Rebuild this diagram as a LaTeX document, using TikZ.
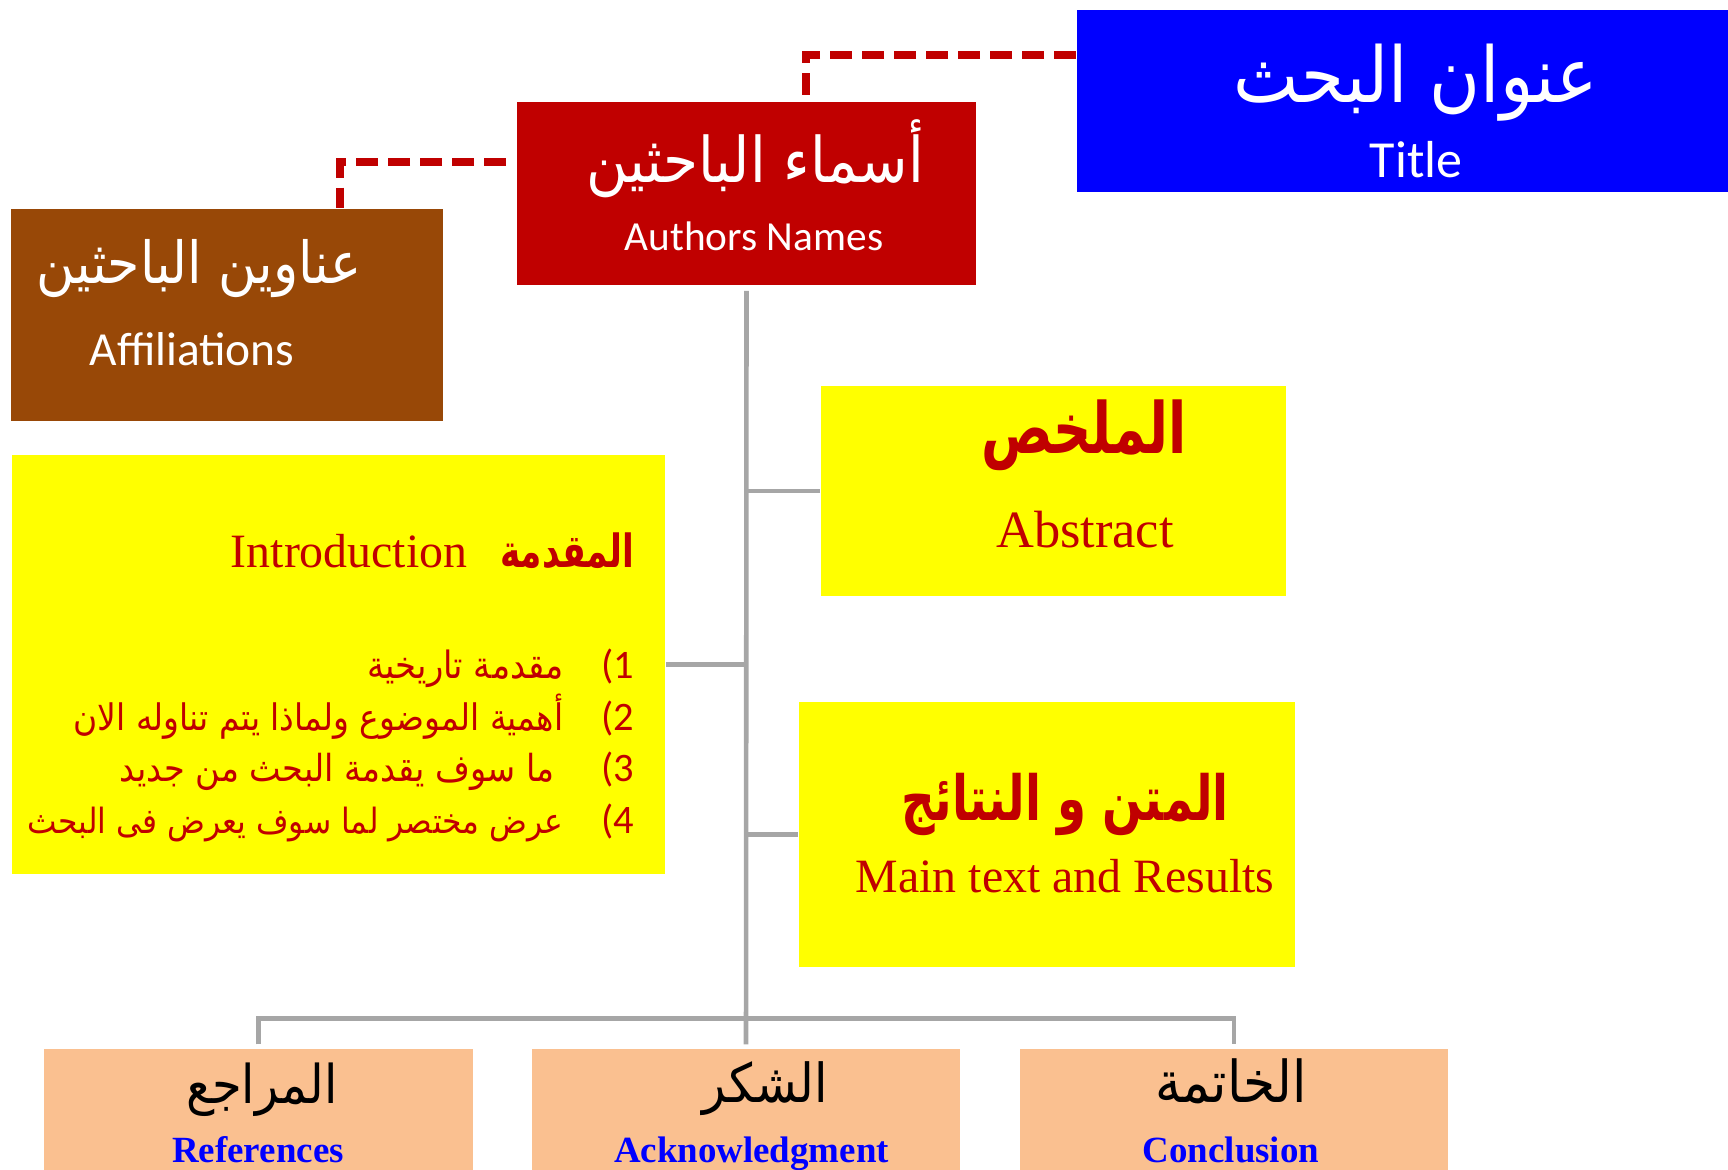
\documentclass[tikz,border=0pt]{standalone}
\usepackage{fontspec}
\setmainfont{Liberation Serif}
\newfontfamily\calfont{Carlito}
\newfontfamily\arabicfont[Script=Arabic, FakeStretch=0.9]{DejaVu Sans}
\newfontfamily\arabiccond[Script=Arabic, FakeStretch=0.75]{DejaVu Sans}
\TeXXeTstate=1
\usetikzlibrary{calc}
\definecolor{titleblue}{RGB}{0,0,255}
\definecolor{darkred}{RGB}{192,0,0}
\definecolor{affilbrown}{RGB}{152,72,7}
\definecolor{boxyellow}{RGB}{255,255,0}
\definecolor{peach}{RGB}{250,192,144}
\definecolor{linegray}{RGB}{166,166,166}
\newcommand{\artxt}[1]{{\arabicfont\beginR #1\endR}}
\newcommand{\arcond}[1]{{\arabiccond\bfseries\beginR #1\endR}}

\begin{document}
\begin{tikzpicture}[x=0.01cm, y=-0.01cm,
        box/.style={rectangle, inner sep=0pt},
        txt/.style={inner sep=0pt, anchor=base},
        dashlink/.style={draw=darkred, line width=2.2pt, dash pattern=on 6.3pt off 2.8pt},
        branch/.style={draw=linegray, line width=1.3pt}]
        \useasboundingbox (0,0) rectangle (1728,1169);

        \node [box, fill=titleblue, minimum width=6.78cm, minimum height=1.82cm] (title) at (1416,101) {};
        \node [box, fill=darkred, minimum width=4.59cm, minimum height=1.83cm] (authors) at (746.5,193.5) {};
        \node [box, fill=affilbrown, minimum width=4.32cm, minimum height=2.12cm] (affil) at (227,315) {};
        \node [box, fill=boxyellow, minimum width=6.53cm, minimum height=4.19cm] (intro) at (338.5,664.5) {};
        \node [box, fill=boxyellow, minimum width=4.65cm, minimum height=2.10cm] (abstract) at (1053.5,491) {};
        \node [box, fill=boxyellow, minimum width=4.96cm, minimum height=2.65cm] (main) at (1047,834.5) {};
        \node [box, fill=peach, minimum width=4.29cm, minimum height=1.51cm] (refs) at (258.5,1124.5) {};
        \node [box, fill=peach, minimum width=4.28cm, minimum height=1.51cm] (ack) at (746,1124.5) {};
        \node [box, fill=peach, minimum width=4.28cm, minimum height=1.51cm] (concl) at (1234,1124.5) {};

        \node [txt, text=white, font=\fontsize{21.9}{25}\selectfont] (titlear) at (1416,102) {\artxt{عنوان البحث}};
        \node [txt, text=white, font=\calfont\fontsize{14.8}{17}\selectfont] (titleen) at (1416,177) {Title};
        \node [txt, text=white, font=\fontsize{17.9}{21}\selectfont] (authorsar) at (755,182) {\artxt{أسماء الباحثين}};
        \node [txt, text=white, font=\calfont\fontsize{11.75}{14}\selectfont] (authorsen) at (754,250) {Authors Names};
        \node [txt, text=white, font=\fontsize{16.5}{19}\selectfont] (affilar) at (199,283) {\artxt{عناوين الباحثين}};
        \node [txt, text=white, font=\calfont\fontsize{13.5}{16}\selectfont] (affilen) at (192,365) {Affiliations};

        \node [txt, anchor=base east, text=darkred, font=\fontsize{13}{15}\selectfont] (introar) at (635,567) {\arcond{المقدمة}};
        \node [txt, anchor=base east, text=darkred, font=\fontsize{13.6}{16}\selectfont] (introen) at (468,567) {Introduction};
        \node [txt, anchor=base east, text=darkred, font=\calfont\fontsize{11.5}{14}\selectfont] (n1) at (635,678) {(1};
        \node [txt, anchor=base east, text=darkred, font=\calfont\fontsize{11.5}{14}\selectfont] (n2) at (635,730) {(2};
        \node [txt, anchor=base east, text=darkred, font=\calfont\fontsize{11.5}{14}\selectfont] (n3) at (635,781) {(3};
        \node [txt, anchor=base east, text=darkred, font=\calfont\fontsize{11.5}{14}\selectfont] (n4) at (635,833) {(4};
        \node [txt, anchor=base east, text=darkred, font=\fontsize{10.7}{13}\selectfont] (item1) at (564,678) {\artxt{مقدمة تاريخية}};
        \node [txt, anchor=base east, text=darkred, font=\fontsize{10.4}{13}\selectfont] (item2) at (564,730) {\artxt{أهمية الموضوع ولماذا يتم تناوله الان}};
        \node [txt, anchor=base east, text=darkred, font=\fontsize{10.6}{13}\selectfont] (item3) at (555,781) {\artxt{ما سوف يقدمة البحث من جديد}};
        \node [txt, anchor=base east, text=darkred, font=\fontsize{9.9}{12}\selectfont] (item4) at (564,833) {\artxt{عرض مختصر لما سوف يعرض فى البحث}};

        \node [txt, text=darkred, font=\fontsize{20.1}{23}\selectfont] (abstractar) at (1084,453) {\arcond{الملخص}};
        \node [txt, text=darkred, font=\fontsize{14.9}{18}\selectfont] (abstracten) at (1085,547) {Abstract};
        \node [txt, text=darkred, font=\fontsize{17.7}{21}\selectfont] (mainar) at (1065,820) {\arcond{المتن و النتائج}};
        \node [txt, text=darkred, font=\fontsize{13.6}{16}\selectfont] (mainen) at (1065,892) {Main text and Results};

        \node [txt, font=\fontsize{15.2}{18}\selectfont] (refsar) at (262,1103) {\artxt{المراجع}};
        \node [txt, text=titleblue, font=\bfseries\fontsize{10.5}{13}\selectfont] (refsen) at (258,1162) {References};
        \node [txt, font=\fontsize{15.3}{18}\selectfont] (ackar) at (765,1102) {\artxt{الشكر}};
        \node [txt, text=titleblue, font=\bfseries\fontsize{10.5}{13}\selectfont] (acken) at (751.5,1162) {Acknowledgment};
        \node [txt, font=\fontsize{16.4}{19}\selectfont] (conclar) at (1231,1102) {\artxt{الخاتمة}};
        \node [txt, text=titleblue, font=\bfseries\fontsize{10.5}{13}\selectfont] (conclen) at (1231,1162) {Conclusion};

        \draw [dashlink] ($(title.north west)!0.25!(title.south west)$) -| ([xshift=0.595cm]authors.north);
        \draw [dashlink] ($(authors.north west)!0.33!(authors.south west)+(-10,0)$) -| ($(affil.north west)!0.76!(affil.north east)$);

        \draw [branch] ([yshift=-0.05cm]authors.south) -- ([yshift=0.04cm]ack.north);
        \draw [branch] (abstract.west) -- (abstract.west -| authors.south);
        \draw [branch] (intro.east) -- (intro.east -| authors.south);
        \draw [branch] (main.west) -- (main.west -| authors.south);
        \draw [branch] ([yshift=0.04cm]refs.north) -- ++(0,-26) -| ([yshift=0.04cm]concl.north);
\end{tikzpicture}
\end{document}
